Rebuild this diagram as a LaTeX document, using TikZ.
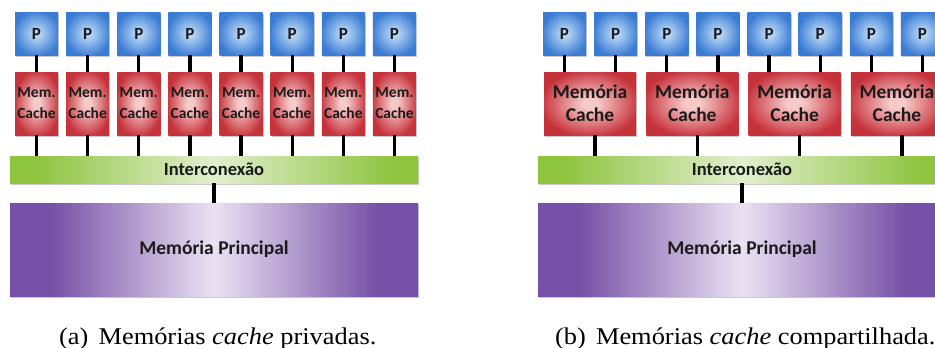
\documentclass[tikz,border=0pt]{standalone}
\usepackage{fontspec}
\setmainfont{Liberation Serif}
\newfontfamily\boxfont{Carlito}
\newfontfamily\capfont[FakeStretch=1.1]{Liberation Serif}
\usetikzlibrary{shadows}

\definecolor{pblue}{HTML}{3A7BD4}
\definecolor{pbluel}{HTML}{B3D4F5}
\definecolor{cred}{HTML}{C6323A}
\definecolor{credl}{HTML}{F7CACA}
\definecolor{igreen}{HTML}{8EC43E}
\definecolor{igreenl}{HTML}{E2EFCF}
\definecolor{mpurp}{HTML}{7650A6}
\definecolor{mpurpl}{HTML}{EAE2F3}
\definecolor{tdark}{HTML}{1A1A1A}

% TikZ maps the path's bounding box onto the inner 25bp..75bp of a shading
\pgfdeclareradialshading{pglow}{\pgfpoint{0bp}{0bp}}{color(0bp)=(pbluel); color(4bp)=(pbluel); color(27bp)=(pblue); color(50bp)=(pblue)}
\pgfdeclareradialshading{cglow}{\pgfpoint{0bp}{0bp}}{color(0bp)=(credl); color(4bp)=(credl); color(27bp)=(cred); color(50bp)=(cred)}
\pgfdeclarehorizontalshading{gbar}{100bp}{color(0bp)=(igreen); color(28bp)=(igreen); color(50bp)=(igreenl); color(72bp)=(igreen); color(100bp)=(igreen)}
\pgfdeclarehorizontalshading{pbar}{100bp}{color(0bp)=(mpurp); color(30bp)=(mpurp); color(50bp)=(mpurpl); color(70bp)=(mpurp); color(100bp)=(mpurp)}

\tikzset{
  shad/.style={drop shadow={shadow xshift=1pt, shadow yshift=-2pt, opacity=0.35, fill=black!60}},
  pbox/.style={rectangle, shading=pglow, shad, minimum width=43pt, minimum height=43pt, inner sep=0pt,
    text=tdark, font=\boxfont\bfseries\fontsize{17}{17}\selectfont},
  cbox/.style={rectangle, shading=cglow, shad, minimum width=43pt, minimum height=63pt, inner sep=0pt,
    align=center, text=tdark, font=\boxfont\bfseries\fontsize{15.5}{21}\selectfont},
  wcbox/.style={cbox, minimum width=92pt, font=\boxfont\bfseries\fontsize{19.5}{23}\selectfont},
  ibox/.style={rectangle, shading=gbar, shad, minimum width=408pt, minimum height=27pt, inner sep=0pt,
    text=tdark, font=\boxfont\bfseries\fontsize{18.5}{18.5}\selectfont},
  mbox/.style={rectangle, shading=pbar, shad, minimum width=408pt, minimum height=93pt, inner sep=0pt,
    text=tdark, font=\boxfont\bfseries\fontsize{19.5}{19.5}\selectfont},
  conn/.style={line width=3.3pt, black},
  captext/.style={anchor=base west, inner sep=0pt, font=\capfont\fontsize{24}{24}\selectfont}
}

\begin{document}
\begin{tikzpicture}[x=1pt, y=-1pt]
\useasboundingbox (0,0) rectangle (935,348);
\clip (0,0) rectangle (935,348);
\fill[white] (0,0) rectangle (935,348);

% ---------- (a) private caches ----------
\node[ibox] (li) at (214,169.5) {Interconexão};
\node[mbox] (lm) at (214,249.5) {Memória Principal};
\foreach \i in {0,...,7}{
  \pgfmathsetmacro\cx{36.5+51.14*\i}
  \node[pbox] (lp\i) at (\cx,33.5) {P};
  \node[cbox] (lc\i) at (\cx,103.5) {Mem.\\Cache};
  \draw[conn] (lp\i.south) -- (lc\i.north);
  \draw[conn] (lc\i.south) -- (lc\i.south |- li.north);
}
\draw[conn] (li.south) -- (lm.north);

% ---------- (b) shared caches ----------
\node[ibox] (ri) at (742,169.5) {Interconexão};
\node[mbox] (rm) at (742,249.5) {Memória Principal};
\foreach \i in {0,...,7}{
  \pgfmathsetmacro\cx{564.5+51.14*\i}
  \node[pbox] (rp\i) at (\cx,33.5) {P};
}
\foreach \k in {0,...,3}{
  \pgfmathsetmacro\cx{564.5+51.14*(2*\k+0.5)}
  \node[wcbox] (rc\k) at (\cx,103.5) {Memória\\Cache};
  \pgfmathtruncatemacro\ia{2*\k}
  \pgfmathtruncatemacro\ib{2*\k+1}
  \draw[conn] (rp\ia.south) -- (rp\ia.south |- rc\k.north);
  \draw[conn] (rp\ib.south) -- (rp\ib.south |- rc\k.north);
  \draw[conn] ([xshift=5pt]rc\k.south) -- ([xshift=5pt]rc\k.south |- ri.north);
}
\draw[conn] (ri.south) -- (rm.north);

% ---------- captions ----------
\node[captext] (capa) at (59,344) {(a)\hspace{0.42em}Memórias \textit{cache} privadas.};
\node[captext] (capb) at (555,344) {(b)\hspace{0.42em}Memórias \textit{cache} compartilhada.};
\end{tikzpicture}
\end{document}
